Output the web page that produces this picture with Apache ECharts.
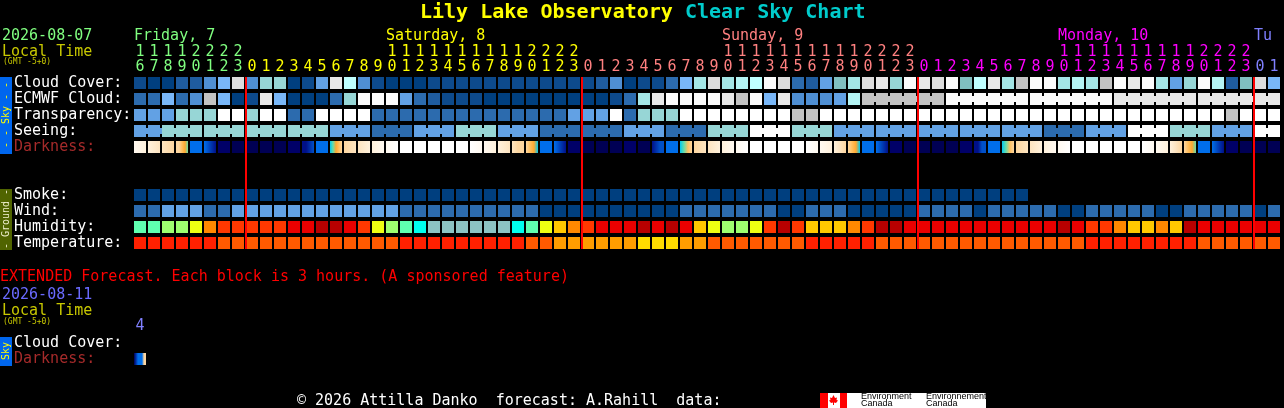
<!DOCTYPE html>
<html><head><meta charset="utf-8">
<style>html,body{margin:0;padding:0;background:#000;overflow:hidden}#c{width:1284px;height:408px}</style>
<script src="https://cdn.jsdelivr.net/npm/echarts@6/dist/echarts.min.js"></script>
</head><body><div id="c"></div>
<script>
const hours=[16,17,18,19,20,21,22,23,0,1,2,3,4,5,6,7,8,9,10,11,12,13,14,15,16,17,18,19,20,21,22,23,0,1,2,3,4,5,6,7,8,9,10,11,12,13,14,15,16,17,18,19,20,21,22,23,0,1,2,3,4,5,6,7,8,9,10,11,12,13,14,15,16,17,18,19,20,21,22,23,0,1].map(String);
const rowNames=['Cloud Cover:','ECMWF Cloud:','Transparency:','Seeing:','Darkness:','','','Smoke:','Wind:','Humidity:','Temperature:'];
const extRowNames=['Cloud Cover:','Darkness:'];
const extHours=['4'];
const cloud=[1,0,0,2,2,4,6,13,4,8,8,0,1,5,14,11,4,1,0,0,0, 1,1,1,1,1,1,1,1,1,1,1,1,2,4,0,1,1,3,6,9,13,9,10,11,15,13,3,2,5,7,9, 13,14,8,15,14,13,15,7,11,14,9,12,15,15,9,10,9,12,15,14,15,9,5,8,15,10,2,7,13,6];
const ecmwf=[3,3,6,3,4,12,6,0,1,14,6,0,0,0,3,8,15,15,15,5,3, 2,1,1,1,0,0,0,0,0,0,0,0,0,1,3,9,14,15,15,15,15,14,12,15,6,14,4,4,4,5,10, 12,12,12,12,12,12,15,15,15,15,15,15,15,15,15,15,15,15,14,14,14,14,14,14,14,14,14,14,14,14];
const transparency=[5,5,5,8,8,8,16,16,8,16,16,3,3,16,16,16,16,3,3,3,3, 3,3,3,3,3,3,3,3,3,3,5,5,5,16,3,8,8,8,16,16,16,16,16,16,16,16,12,12,16,16,16, 16,16,16,16,16,16,16,16,16,16,16,16,16,16,16,16,16,16,16,16,16,16,16,16,16,16,12,16,16,16];
const seeing=[5,5, 8,8,8,8,8,8,8,8,8,8,8,8, 5,5,5, 3,3,3, 5,5,5, 8,8,8, 5,5,5, 3,3,3,3,3,3, 5,5,5, 3,3,3, 8,8,8, 16,16,16, 8,8,8, 5,5,5,5,5,5,5,5,5,5,5,5,5,5,5, 3,3,3, 5,5,5, 16,16,16, 8,8,8, 5,5,5, 16,16];
const smoke=[0,0,0,0,0,0,0,0,0,0,0,0,0,0,0,0,0,0,0,0,0,0,0,0,0,0,0,0,0,0,0,0,0,0,0,0,0,0,0,0,0,0,0,0,0,0,0,0,0,0,0,0,0,0,0,0,0,0,0,0,0,0,0,0];
const wind=[3,3,5,5,5,3,3,5,5,5,5,5,5,5,5,5,5,5,5,3,3, 3,3,3,3,3,3,3,3,0,0,0,0,0,0,0,0,0,0,3,3,3,3,3,3,3,0,0,3,3,3,0, 0,0,0,0,3,3,3,3,0,3,3,3,3,3,0,0,3,3,3,3,3,0,0,3,3,3,3,3,0,3];
const humidity=[2,2,3,3,4,6,7,7,7,7,7,8,8,9,9,8,7,4,3,2,1, 0,0,0,0,0,0,1,2,4,5,6,7,8,8,8,9,8,9,8,5,4,3,3,4,7,9,7,5,5,5,6, 7,9,9,8,8,8,8,8,8,8,8,8,8,8,9,8,7,7,6,5,5,6,5,9,8,8,8,8,8,8];
const temperature=[0,0,0,0,0,0,1,1,1,1,1,1,1,1,1,1,1,1,1,0,0, 0,0,0,0,0,0,0,1,1,2,2,2,2,2,2,3,3,3,2,2,1,1,1,1,1,1,1,0,0,0,0, 0,1,1,1,1,1,1,1,1,1,1,1,1,1,1,1,0,0,0,0,0,0,0,0,1,1,1,1,1,1];
const darkness=[[1,2],[2,3],[3,4],[4,4,5,6,7],[9],[9,10,11,12],[13],[14],[14],[14],[14],[13],[12,12,11,10],[9],[8,7,6,5,4],[4,3],[3,2],[2,1],[1,0],[0],[0],[0],[0],[0],[0,1],[1,2],[2,3],[3,4,4],[4,5,6,8],[9],[9,10,11,12],[13],[14],[14],[14],[13],[14],[12,11,10,10],[9],[8,7,5,4],[4,3],[3,2],[2,1],[1,0],[0],[0],[0],[0],[0,1],[1,2],[2,3,4],[4,5,6,8],[9],[9,10,11,12],[13],[14],[14],[14],[14],[13],[12,12,10,10],[9],[8,7,5,4],[4,3],[3,2],[2,1],[1,0],[0],[0],[0],[0],[0],[0,1],[1,2],[2,3,4],[4,5,6,7],[9],[9,10,11,12],[13],[14],[14],[14]];
const extDarkness=[[14,11,9,9,9,4,4]];
const skyColors=['#003f7f','#0d4a8c','#1f5c9f','#2c6bae','#4f8fd3','#62a1e4','#79b7f8','#80bfc0','#97d6d6','#a4e6e6','#b4f4f4','#bfffff','#c3c3c3','#dddddd','#e8e8e8','#fbfbfb','#ffffff'];
const humidityColors=['#8cc4c4','#00ffee','#5fffb0','#9fff6f','#eeff12','#ffc800','#ff8800','#ff3800','#ea0000','#b80000'];
const temperatureColors=['#ff2000','#ff5a00','#ff9d00','#ffdc00'];
const darknessColors=['#ffffff','#fff9f0','#fff1dc','#fde4c0','#fdd6a0','#ffc060','#ffa830','#66ddaa','#00c8f0','#006eea','#0050c8','#0030a8','#001088','#000068','#000054'];
const dayLabels=[[0,'Friday, 7','#80ff80'],[18,'Saturday, 8','#ffff00'],[42,'Sunday, 9','#ff8080'],[66,'Monday, 10','#ff00ff'],[80,'Tu','#8080ff']];
const hourColors=['#80ff80','#ffff00','#ff8080','#ff00ff','#8080ff'];

const MONO='"DejaVu Sans Mono",monospace';
function dayOf(i){let d=0;for(let k=1;k<=i;k++)if(hours[k]==='0')d++;return d;}
const midnights=hours.map((h,i)=>h==='0'?[i,0]:null).filter(Boolean);
const seeingJoin=i=>(i-2)%3!==2;
const ecmwfJoin=i=>i>=52&&(i-52)%6!==5;

function cellSeries(values,row,colors,join){
  return {type:'custom',xAxisIndex:0,yAxisIndex:0,silent:true,clip:false,
    data:values.map((v,i)=>[i,row,v]),encode:{x:0,y:1},
    renderItem(p,api){
      const i=api.value(0),c=api.coord([i,api.value(1)]),fill=colors[api.value(2)];
      const kids=[{type:'rect',shape:{x:c[0]-6,y:c[1]-6,width:12,height:12},style:{fill}}];
      if(join&&join(i)&&i<values.length-1)kids.push({type:'rect',shape:{x:c[0]+6,y:c[1]-3,width:2,height:6},style:{fill}});
      return {type:'group',children:kids};
    }};
}
function gradientSeries(values,row,xi,yi){
  return {type:'custom',xAxisIndex:xi,yAxisIndex:yi,silent:true,clip:false,
    data:values.map((v,i)=>[i,row]),encode:{x:0,y:1},
    renderItem(p,api){
      const i=api.value(0),c=api.coord([i,api.value(1)]),s=values[i];
      const fill=s.length===1?darknessColors[s[0]]:{type:'linear',x:0,y:0,x2:1,y2:0,
        colorStops:s.map((l,k)=>({offset:k/(s.length-1),color:darknessColors[l]}))};
      return {type:'rect',shape:{x:c[0]-6,y:c[1]-6,width:12,height:12},style:{fill}};
    }};
}
const ytext=v=>v==='Darkness:'?'#a52a2a':'#ffffff';
function T(x,y,text,fill,size,extra){
  return Object.assign({type:'text',x,y,silent:true,style:{text,fill,font:(size||15)+'px '+MONO,verticalAlign:'middle'}},extra||{});
}
function V(x,y,text,fill){
  return {type:'text',x,y,rotation:Math.PI/2,silent:true,style:{text,fill,font:'10px '+MONO,align:'center',verticalAlign:'middle'}};
}
const graphics=[
  {type:'rect',shape:{x:0,y:77,width:12,height:77},style:{fill:'#0066ee'},silent:true},
  {type:'rect',shape:{x:0,y:189,width:12,height:61},style:{fill:'#506400'},silent:true},
  {type:'rect',shape:{x:0,y:337,width:12,height:29},style:{fill:'#0066ee'},silent:true},
  V(6,115,'- - Sky - -','#ffff00'),
  V(6,219,'- Ground -','#eeeecc'),
  V(6,351,'Sky','#ffff00'),
  T(2,36,'2026-08-07','#80ff80'),
  T(2,52,'Local Time','#c8c800'),
  T(3,62,'(GMT -5+0)','#c8c800',8),
  T(0,277,'EXTENDED Forecast. Each block is 3 hours. (A sponsored feature)','#ff0000'),
  T(2,295,'2026-08-11','#6a6aff'),
  T(2,311,'Local Time','#c8c800'),
  T(3,322,'(GMT -5+0)','#c8c800',8),
  T(297,401,'\u00a9 2026 Attilla Danko  forecast: A.Rahill  data:','#ffffff'),
  {type:'rect',shape:{x:820,y:393,width:166,height:15},style:{fill:'#ffffff'},silent:true},
  {type:'rect',shape:{x:820,y:393,width:8,height:15},style:{fill:'#ff0000'},silent:true},
  {type:'rect',shape:{x:840,y:393,width:7,height:15},style:{fill:'#ff0000'},silent:true},
  {type:'polygon',shape:{points:[[833.5,395],[835,398],[837,397.5],[836.5,400],[838,400.5],[836,403],[834,402.5],[834,405],[833,405],[833,402.5],[831,403],[829,400.5],[830.5,400],[830,397.5],[832,398]]},style:{fill:'#ff0000'},silent:true},
  {type:'text',x:861,y:397,silent:true,style:{text:'Environment',fill:'#000',font:'9px "Liberation Sans"',verticalAlign:'middle'}},
  {type:'text',x:861,y:404,silent:true,style:{text:'Canada',fill:'#000',font:'9px "Liberation Sans"',verticalAlign:'middle'}},
  {type:'text',x:926,y:397,silent:true,style:{text:'Environnement',fill:'#000',font:'9px "Liberation Sans"',verticalAlign:'middle'}},
  {type:'text',x:926,y:404,silent:true,style:{text:'Canada',fill:'#000',font:'9px "Liberation Sans"',verticalAlign:'middle'}}
];
dayLabels.forEach(d=>graphics.push(T(134+14*d[0],36,d[1],d[2])));

const chart=echarts.init(document.getElementById('c'),null,{renderer:'canvas',width:1284,height:408});
const hourFmt=v=>v.length===2?v[0]+'\n'+v[1]:v;
chart.setOption({
  backgroundColor:'#000000',animation:false,tooltip:{show:false},
  title:{left:420,top:3,padding:0,text:'{a|Lily Lake Observatory }{b|Clear Sky Chart}',
    textStyle:{rich:{a:{color:'#ffff00',fontFamily:MONO,fontWeight:'bold',fontSize:20},b:{color:'#00cccc',fontFamily:MONO,fontWeight:'bold',fontSize:20}}}},
  grid:[{left:133,top:75,width:1148,height:176},{left:133,top:335,width:14,height:32}],
  xAxis:[
    {type:'category',gridIndex:0,position:'top',data:hours,axisLine:{show:false},axisTick:{show:false},splitLine:{show:false},
     axisLabel:{interval:0,margin:0,fontFamily:MONO,fontSize:15,lineHeight:15,hideOverlap:false,formatter:hourFmt,color:(v,i)=>hourColors[dayOf(i)]}},
    {type:'category',gridIndex:1,position:'top',data:extHours,axisLine:{show:false},axisTick:{show:false},
     axisLabel:{interval:0,margin:1,fontFamily:MONO,fontSize:15,lineHeight:15,color:'#8080ff'}}
  ],
  yAxis:[
    {type:'category',gridIndex:0,inverse:true,data:rowNames,axisLine:{show:false},axisTick:{show:false},splitLine:{show:false},
     axisLabel:{interval:0,margin:119,align:'left',padding:[0,0,1,0],fontFamily:MONO,fontSize:15,color:ytext}},
    {type:'category',gridIndex:1,inverse:true,data:extRowNames,axisLine:{show:false},axisTick:{show:false},
     axisLabel:{interval:0,margin:119,align:'left',padding:[0,0,1,0],fontFamily:MONO,fontSize:15,color:ytext}}
  ],
  graphic:graphics,
  series:[
    cellSeries(cloud,0,skyColors),
    cellSeries(ecmwf,1,skyColors,ecmwfJoin),
    cellSeries(transparency,2,skyColors),
    cellSeries(seeing,3,skyColors,seeingJoin),
    gradientSeries(darkness,4,0,0),
    cellSeries(smoke,7,skyColors),
    cellSeries(wind,8,skyColors),
    cellSeries(humidity,9,humidityColors),
    cellSeries(temperature,10,temperatureColors),
    gradientSeries(extDarkness,1,1,1),
    {type:'custom',xAxisIndex:0,yAxisIndex:0,silent:true,clip:false,z:10,data:midnights,encode:{x:0,y:1},
     renderItem(p,api){
       const top=api.coord([api.value(0),0]),bot=api.coord([api.value(0),10]),w=api.size([1,0])[0];
       return {type:'rect',shape:{x:top[0]-w/2,y:top[1]-6,width:2,height:bot[1]-top[1]+12},style:{fill:'#ff0000'}};
     }}
  ]
});
</script></body></html>
